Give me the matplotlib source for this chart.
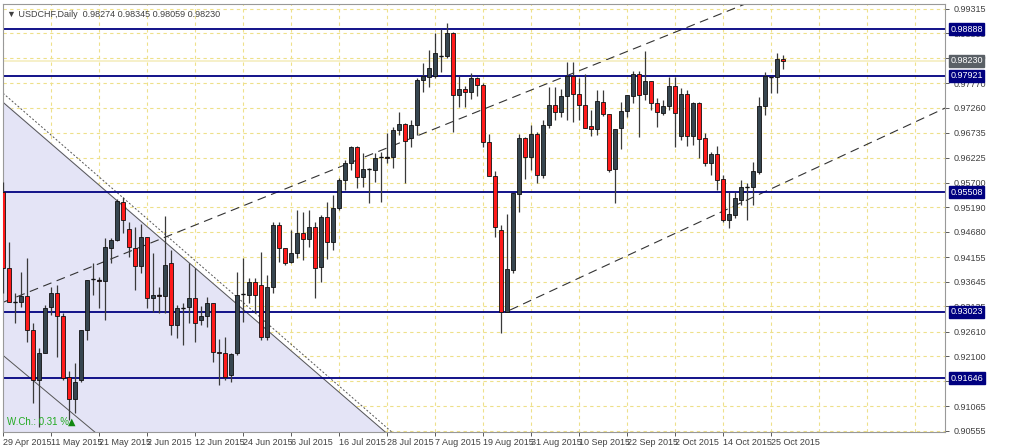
import matplotlib
matplotlib.use("Agg")
import matplotlib.pyplot as plt
import numpy as np

plt.rcParams["font.family"] = ["Liberation Sans", "DejaVu Sans"]

# ---------------------------------------------------------------------------
# Data (USDCHF daily)
# ---------------------------------------------------------------------------
opens = [
    .9551, .9393, .9322, .9322, .9335, .9264, .9161, .9217, .9312, .9341,
    .9293, .9167, .9121, .9161, .9264, .9370, .9368, .9366, .9434, .9451,
    .9530, .9474, .9434, .9397, .9457, .9331, .9337, .9335, .9403, .9275,
    .9310, .9312, .9331, .9285, .9293, .9320, .9219, .9217, .9171, .9217,
    .9339, .9337, .9364, .9358, .9250, .9354, .9482, .9434, .9405, .9424,
    .9466, .9453, .9478, .9395, .9499, .9447, .9517, .9575, .9611, .9644,
    .9582, .9598, .9596, .9623, .9623, .9623, .9679, .9692, .9663, .9690,
    .9783, .9789, .9791, .9833, .9833, .9881, .9752, .9764, .9758, .9787,
    .9773, .9654, .9584, .9472, .9302, .9389, .9546, .9663, .9623, .9671,
    .9586, .9690, .9731, .9717, .9750, .9791, .9754, .9731, .9688, .9681,
    .9737, .9712, .9598, .9683, .9719, .9750, .9795, .9754, .9781, .9735,
    .9715, .9729, .9771, .9667, .9754, .9667, .9735, .9663, .9611, .9629,
    .9578, .9493, .9503, .9534, .9561, .9561, .9592, .9729, .9789, .9789,
    .98274,
]
highs = [
    .9571, .9447, .9341, .9385, .9414, .9279, .9227, .9316, .9354, .9358,
    .9300, .9179, .9196, .9264, .9368, .9403, .9374, .9455, .9455, .9536,
    .9540, .9488, .9478, .9484, .9458, .9424, .9354, .9501, .9430, .9316,
    .9320, .9403, .9393, .9314, .9333, .9321, .9246, .9250, .9217, .9385,
    .9414, .9372, .9372, .9426, .9378, .9488, .9488, .9435, .9472, .9513,
    .9509, .9513, .9488, .9503, .9530, .9544, .9580, .9617, .9646, .9646,
    .9632, .9600, .9632, .9634, .9673, .9685, .9717, .9694, .9700, .9787,
    .9818, .9845, .9881, .9889, .9901, .9883, .9791, .9771, .9797, .9789,
    .9777, .9671, .9594, .9482, .9505, .9549, .9671, .9665, .9690, .9675,
    .9700, .9768, .9768, .9764, .9820, .9820, .9787, .9795, .9721, .9762,
    .9762, .9713, .9681, .9737, .9752, .9802, .9802, .9843, .9782, .9746,
    .9741, .9789, .9789, .9766, .9762, .9737, .9737, .9673, .9634, .9646,
    .9586, .9551, .9551, .9575, .9569, .9613, .9748, .9800, .9791, .9839,
    .98345,
]
lows = [
    .9341, .9322, .9279, .9312, .9239, .9113, .9063, .9217, .9295, .9208,
    .9161, .9077, .9092, .9156, .9244, .9337, .9310, .9285, .9403, .9449,
    .9466, .9416, .9347, .9383, .9310, .9302, .9300, .9300, .9254, .9248,
    .9233, .9279, .9239, .9275, .9270, .9198, .9150, .9161, .9156, .9212,
    .9281, .9320, .9300, .9244, .9244, .9341, .9405, .9399, .9403, .9414,
    .9410, .9436, .9331, .9364, .9412, .9430, .9513, .9555, .9596, .9559,
    .9561, .9528, .9571, .9530, .9611, .9600, .9669, .9569, .9644, .9669,
    .9758, .9768, .9787, .9800, .9829, .9675, .9727, .9727, .9744, .9750,
    .9644, .9584, .9457, .9258, .9301, .9383, .9509, .9578, .9596, .9569,
    .9580, .9683, .9700, .9706, .9700, .9696, .9700, .9683, .9667, .9669,
    .9708, .9592, .9528, .9640, .9706, .9735, .9665, .9741, .9721, .9685,
    .9710, .9721, .9644, .9658, .9646, .9648, .9621, .9605, .9586, .9555,
    .9488, .9476, .9497, .9524, .9493, .9524, .9588, .9710, .9756, .9756,
    .98059,
]
closes = [
    .9393, .9322, .9323, .9335, .9264, .9161, .9217, .9310, .9341, .9293,
    .9165, .9121, .9156, .9264, .9368, .9371, .9367, .9436, .9451, .9532,
    .9493, .9436, .9397, .9457, .9331, .9337, .9336, .9399, .9275, .9310,
    .9311, .9331, .9279, .9293, .9320, .9219, .9217, .9167, .9214, .9337,
    .9340, .9364, .9337, .9250, .9354, .9482, .9434, .9403, .9424, .9466,
    .9453, .9478, .9393, .9499, .9447, .9517, .9575, .9611, .9644, .9582,
    .9598, .9599, .9621, .9624, .9622, .9679, .9692, .9656, .9690, .9783,
    .9791, .9808, .9839, .9834, .9881, .9752, .9764, .9758, .9787, .9773,
    .9654, .9584, .9478, .9302, .9391, .9549, .9663, .9623, .9671, .9586,
    .9690, .9731, .9717, .9750, .9791, .9754, .9731, .9683, .9681, .9739,
    .9712, .9596, .9681, .9719, .9752, .9795, .9752, .9781, .9735, .9717,
    .9729, .9771, .9715, .9754, .9667, .9735, .9661, .9611, .9629, .9575,
    .9493, .9505, .9538, .9561, .9562, .9594, .9729, .9791, .9790, .9827,
    .98230,
]

date_labels = ["29 Apr 2015", "11 May 2015", "21 May 2015", "2 Jun 2015",
               "12 Jun 2015", "24 Jun 2015", "6 Jul 2015", "16 Jul 2015",
               "28 Jul 2015", "7 Aug 2015", "19 Aug 2015", "31 Aug 2015",
               "10 Sep 2015", "22 Sep 2015", "2 Oct 2015", "14 Oct 2015",
               "25 Oct 2015"]
price_ticks = [0.99315, 0.98805, 0.98290, 0.97770, 0.97260, 0.96735, 0.96225,
               0.95700, 0.95190, 0.94680, 0.94155, 0.93645, 0.93135, 0.92610,
               0.92100, 0.91580, 0.91065, 0.90555]
levels = [0.98888, 0.97921, 0.95508, 0.93023, 0.91646]
last_price = 0.98230

# trend lines: (bar, price) endpoints
wedge_top = [(0, 0.9737), (63.7, 0.9053)]
wedge_dotted = [(0, 0.9756), (64.8, 0.9053)]
wedge_low = [(0, 0.9212), (15.3, 0.9053)]
chan_up = [(0, 0.9322), (123.7, 0.9941)]
chan_low = [(84.5, 0.9306), (157, 0.9725)]

# ---------------------------------------------------------------------------
NAVY = "#000080"
GRID = "#eee08a"
BULL = "#36454f"
BEAR = "#ff1a1a"
FG = "#404040"

fig = plt.figure(figsize=(10.24, 4.47), dpi=100)
ax = fig.add_axes([3 / 1024, 15 / 447, 942 / 1024, 428 / 447])
y_lo, y_hi = 0.9053, 0.9941
x_lo, x_hi = 0, 157
ax.set_xlim(x_lo, x_hi)
ax.set_ylim(y_lo, y_hi)

# grid
for p in price_ticks:
    ax.axhline(p, color=GRID, lw=0.8, ls=(0, (3, 3)), zorder=0)
for i in range(0, 160, 8):
    ax.axvline(i, color=GRID, lw=0.8, ls=(0, (3, 3)), zorder=0)

# shaded wedge
(xa, ya), (xb, yb) = wedge_top
ax.fill([x_lo, x_lo, xb], [ya, y_lo, y_lo], color="#e4e4f6", zorder=0.5)
for seg, st in [(wedge_top, "-"), (wedge_dotted, (0, (2, 2))), (wedge_low, "-")]:
    ax.plot([seg[0][0], seg[1][0]], [seg[0][1], seg[1][1]], color="#555555",
            lw=0.7, ls=st, zorder=1)
for seg in (chan_up, chan_low):
    ax.plot([seg[0][0], seg[1][0]], [seg[0][1], seg[1][1]], color="#333333",
            lw=0.8, ls=(0, (8, 5)), zorder=1)

# horizontal levels
ax.axhline(last_price, color="#f5edc0", lw=1.2, zorder=1)
for lv in levels:
    ax.axhline(lv, color=NAVY, lw=1.3, zorder=2)

# candles
x = np.arange(len(opens))
o, h, l, c = map(np.array, (opens, highs, lows, closes))
up = c >= o
ax.vlines(x, l, h, color="#3a3a3a", lw=0.9, zorder=3)
ax.bar(x[up], (c - o)[up], bottom=o[up], width=0.7, color=BULL,
       edgecolor="#111111", lw=0.6, zorder=4)
ax.bar(x[~up], (o - c)[~up], bottom=c[~up], width=0.7, color=BEAR,
       edgecolor="#111111", lw=0.6, zorder=4)
dojis = np.abs(c - o) < 0.00015
ax.hlines(o[dojis], x[dojis] - 0.4, x[dojis] + 0.4, color="#111111", lw=1, zorder=5)

# axes styling
for s in ax.spines.values():
    s.set_color("#999999")
ax.yaxis.tick_right()
ax.set_yticks(price_ticks)
ax.set_yticklabels([f"{p:.5f}" for p in price_ticks])
ax.set_xticks(np.arange(0, 8 * len(date_labels), 8))
ax.set_xticklabels(date_labels, ha="left")
ax.tick_params(axis="both", labelsize=6.5, colors=FG, length=3, width=0.6)
ax.tick_params(axis="x", pad=1)

# level labels
for lv in levels:
    ax.annotate(f"{lv:.5f}", xy=(1, lv), xycoords=("axes fraction", "data"),
                xytext=(4, 0), textcoords="offset points", va="center",
                fontsize=6.5, color="white",
                bbox=dict(boxstyle="square,pad=0.15", fc=NAVY, ec=NAVY))
ax.annotate(f"{last_price:.5f}", xy=(1, last_price),
            xycoords=("axes fraction", "data"), xytext=(4, 0),
            textcoords="offset points", va="center", fontsize=6.5, color="white",
            bbox=dict(boxstyle="square,pad=0.15", fc="#5a6066", ec="#5a6066"))

ax.text(0.004, 0.985, "▼ USDCHF,Daily  0.98274 0.98345 0.98059 0.98230",
        transform=ax.transAxes, fontsize=6.5, color=FG, va="top")
ax.text(0.004, 0.012, "W.Ch.: 0.31 %", transform=ax.transAxes, fontsize=7,
        color="#22aa22", va="bottom")
ax.text(0.069, 0.012, "▲", transform=ax.transAxes, fontsize=7,
        color="#118811", va="bottom", family="DejaVu Sans")

fig.savefig("out.png", dpi=100, facecolor="white")
